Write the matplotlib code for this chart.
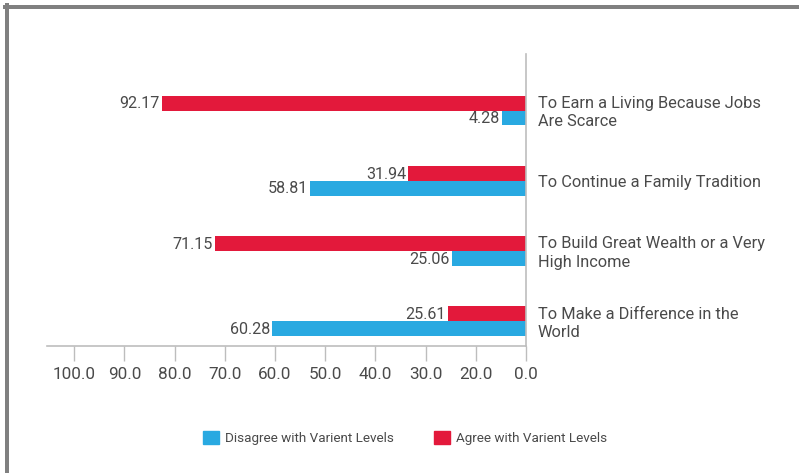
import matplotlib
matplotlib.use("Agg")
import matplotlib.pyplot as plt
from matplotlib.lines import Line2D
from matplotlib.patches import Patch
import numpy as np

plt.rcParams['font.family'] = ['Roboto', 'DejaVu Sans']

categories = [
    "To Earn a Living Because Jobs\nAre Scarce",
    "To Continue a Family Tradition",
    "To Build Great Wealth or a Very\nHigh Income",
    "To Make a Difference in the\nWorld",
]
# values printed on the bars
agree_labels = [92.17, 31.94, 71.15, 25.61]
disagree_labels = [4.28, 58.81, 25.06, 60.28]
# bar lengths as drawn against the axis scale
agree_bars = [72.5, 23.5, 61.9, 15.5]
disagree_bars = [4.8, 43.0, 14.7, 50.6]
tick_values = [0, 10, 20, 30, 40, 50, 60, 70, 80, 90]
tick_labels = ["0.0", "20.0", "30.0", "40.0", "50.0", "60.0", "70.0", "80.0", "90.0", "100.0"]

RED = "#e3193b"
BLUE = "#29a9e1"
TXT = "#4a4a4a"
AX = "#bdbdbd"

W, H = 799, 473
fig = plt.figure(figsize=(W / 100, H / 100), dpi=100)
fig.patch.set_facecolor("white")

x0, x1 = 47, 526
y0, y1 = 54, 346
ax = fig.add_axes([x0 / W, 1 - y1 / H, (x1 - x0) / W, (y1 - y0) / H])
ax.set_xlim(95.4, 0)
ax.set_ylim(3.35, -0.804)

y = np.arange(len(categories))
bh = 0.213
ax.barh(y - bh / 2, agree_bars, height=bh, color=RED, label="Agree with Varient Levels")
ax.barh(y + bh / 2, disagree_bars, height=bh, color=BLUE, label="Disagree with Varient Levels")

for i in range(len(categories)):
    ax.annotate(f"{agree_labels[i]:.2f}", (agree_bars[i], y[i] - bh / 2), xytext=(-1.5, -0.5),
                textcoords="offset points", ha="right", va="center", fontsize=11.6, color=TXT)
    ax.annotate(f"{disagree_labels[i]:.2f}", (disagree_bars[i], y[i] + bh / 2), xytext=(-1.5, -0.5),
                textcoords="offset points", ha="right", va="center", fontsize=11.6, color=TXT)
    ax.annotate(categories[i], (0, y[i]), xytext=(8.5, -1.5), textcoords="offset points",
                ha="left", va="center", fontsize=11.8, color=TXT, linespacing=1.3,
                annotation_clip=False)

for s in ["left", "top"]:
    ax.spines[s].set_visible(False)
for s in ["right", "bottom"]:
    ax.spines[s].set_color(AX)
    ax.spines[s].set_linewidth(1.2)

ax.set_yticks([])
ax.set_xticks(tick_values)
ax.set_xticklabels(tick_labels)
ax.tick_params(axis="x", length=10.8, width=1.0, color=AX, labelsize=12.3, labelcolor=TXT, pad=4)

handles = [Patch(color=BLUE), Patch(color=RED)]
fig.legend(handles, ["Disagree with Varient Levels", "Agree with Varient Levels"],
           loc="center", bbox_to_anchor=(405 / W, 1 - 438 / H), ncol=2, frameon=False,
           fontsize=9.7, labelcolor=TXT, handlelength=1.15, handleheight=1.15,
           handletextpad=0.45, columnspacing=3.0)

# outer frame
lw = 4 * 72 / 100
fig.add_artist(Line2D([5 / W, 1], [1 - 7 / H, 1 - 7 / H], color="#808080", lw=lw,
                      transform=fig.transFigure))
fig.add_artist(Line2D([7 / W, 7 / W], [0, 1 - 5 / H], color="#808080", lw=lw,
                      transform=fig.transFigure))

fig.savefig("out.png", dpi=100)
